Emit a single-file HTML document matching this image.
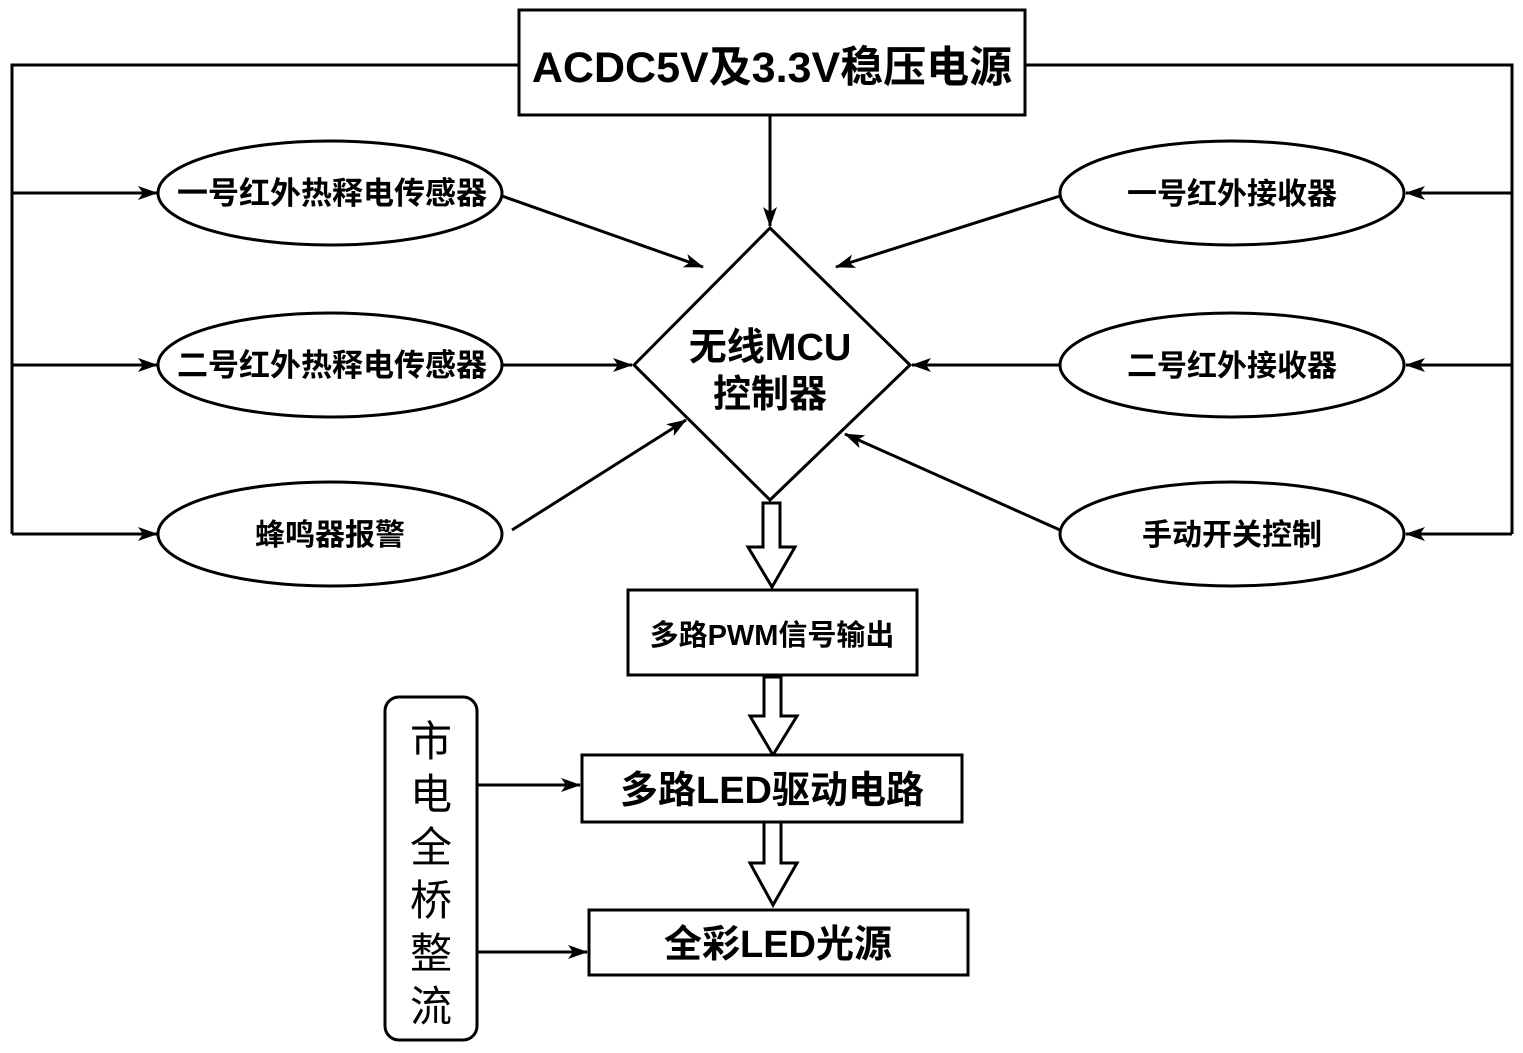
<!DOCTYPE html>
<html><head><meta charset="utf-8"><style>
html,body{margin:0;padding:0;background:#fff}
text{font-family:"Liberation Sans","Noto Sans CJK SC",sans-serif;font-weight:bold;fill:#000}
text.n{font-weight:normal}
</style></head><body>
<svg width="1523" height="1048" viewBox="0 0 1523 1048" xmlns="http://www.w3.org/2000/svg">
<defs>
<marker id="b" viewBox="0 0 20 14" markerWidth="20" markerHeight="14" refX="19" refY="7" orient="auto" markerUnits="userSpaceOnUse"><path d="M0,0 L20,7 L0,14 L5,7 Z" fill="#000"/></marker></defs>
<g stroke="#000" stroke-width="3" fill="none">
<rect x="519" y="10" width="506" height="105" fill="#fff"/>
<polyline points="519,65 12,65 12,534"/>
<polyline points="1025,65 1512,65 1512,534"/>
<line x1="12" y1="193" x2="157" y2="193" marker-end="url(#b)"/>
<line x1="12" y1="365" x2="157" y2="365" marker-end="url(#b)"/>
<line x1="12" y1="534" x2="157" y2="534" marker-end="url(#b)"/>
<line x1="1512" y1="193" x2="1406" y2="193" marker-end="url(#b)"/>
<line x1="1512" y1="365" x2="1406" y2="365" marker-end="url(#b)"/>
<line x1="1512" y1="534" x2="1406" y2="534" marker-end="url(#b)"/>
<ellipse cx="330" cy="193" rx="172" ry="52"/>
<ellipse cx="330" cy="365" rx="172" ry="52"/>
<ellipse cx="330" cy="534" rx="172" ry="52"/>
<ellipse cx="1232" cy="193" rx="172" ry="52"/>
<ellipse cx="1232" cy="365" rx="172" ry="52"/>
<ellipse cx="1232" cy="534" rx="172" ry="52"/>
<polygon points="770,228 910,365 770,500 634,365"/>
<line x1="770" y1="115" x2="770" y2="226" marker-end="url(#b)"/>
<line x1="502" y1="196" x2="703" y2="267" marker-end="url(#b)"/>
<line x1="502" y1="365" x2="632" y2="365" marker-end="url(#b)"/>
<line x1="512" y1="530" x2="686" y2="420" marker-end="url(#b)"/>
<line x1="1060" y1="196" x2="836" y2="267" marker-end="url(#b)"/>
<line x1="1060" y1="365" x2="912" y2="365" marker-end="url(#b)"/>
<line x1="1060" y1="530" x2="845" y2="434" marker-end="url(#b)"/>
<polygon points="763,503 780,503 780,547 795,547 772,587 748,547 763,547" fill="#fff"/>
<polygon points="764,677 781,677 781,716 797,716 773,755 750,716 764,716" fill="#fff"/>
<polygon points="764,822 781,822 781,863 797,863 773,905 750,863 764,863" fill="#fff"/>
<rect x="628" y="590" width="289" height="85" fill="#fff"/>
<rect x="582" y="755" width="380" height="67" fill="#fff"/>
<rect x="589" y="910" width="379" height="65" fill="#fff"/>
<rect x="385" y="697" width="92" height="343" rx="14" fill="#fff"/>
<line x1="477" y1="785" x2="580" y2="785" marker-end="url(#b)"/>
<line x1="477" y1="952" x2="587" y2="952" marker-end="url(#b)"/>
</g>
<text x="772" y="82" font-size="43" text-anchor="middle">ACDC5V及3.3V稳压电源</text>
<text x="332" y="204" font-size="31" text-anchor="middle">一号红外热释电传感器</text>
<text x="332" y="376" font-size="31" text-anchor="middle">二号红外热释电传感器</text>
<text x="330" y="545" font-size="30" text-anchor="middle">蜂鸣器报警</text>
<text x="1232" y="204" font-size="30" text-anchor="middle">一号红外接收器</text>
<text x="1232" y="376" font-size="30" text-anchor="middle">二号红外接收器</text>
<text x="1232" y="545" font-size="30" text-anchor="middle">手动开关控制</text>
<text x="770" y="360" font-size="38" text-anchor="middle">无线MCU</text>
<text x="770" y="407" font-size="38" text-anchor="middle">控制器</text>
<text x="772" y="645" font-size="29" text-anchor="middle">多路PWM信号输出</text>
<text x="772" y="803" font-size="38" text-anchor="middle">多路LED驱动电路</text>
<text x="778" y="957" font-size="38" text-anchor="middle">全彩LED光源</text>
<g font-size="42" text-anchor="middle">
<text class="n" x="431" y="756">市</text><text class="n" x="431" y="809">电</text><text class="n" x="431" y="862">全</text>
<text class="n" x="431" y="915">桥</text><text class="n" x="431" y="968">整</text><text class="n" x="431" y="1021">流</text>
</g>
</svg>
</body></html>
